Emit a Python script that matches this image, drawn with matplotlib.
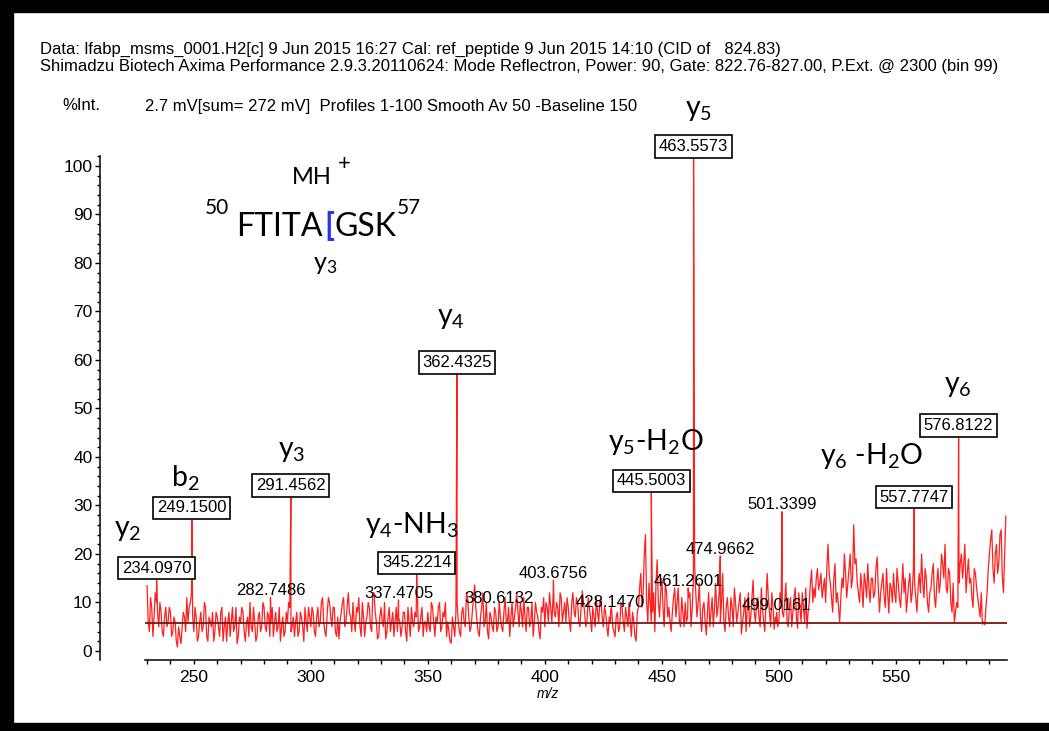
import numpy as np
import matplotlib.pyplot as plt
from matplotlib import font_manager
from matplotlib.patches import Rectangle
from matplotlib.ticker import MultipleLocator, FuncFormatter


# ============================================================
# DATOS DEL ESPECTRO
# ============================================================

# ruido de fondo, una lectura por unidad de m/z desde 230
MZ_INICIO = 230

fondo = [
    13.5, 4, 9, 7, 10, 5, 8, 3, 9, 6,          # 230
    8, 4, 6, 0.8, 3, 5, 7, 11, 9, 12,          # 240
    4, 7, 3, 8, 5, 9, 2, 6, 8, 4,              # 250
    7, 3, 9, 5, 2, 8, 6, 4, 9, 3,              # 260
    6, 8, 2, 7, 10, 4, 6, 3, 8, 5,             # 270
    9, 4, 7, 6, 3, 8, 5, 2, 7, 4,              # 280
    6, 9, 5, 3, 8, 4, 7, 2, 6, 9,              # 290
    5, 8, 3, 9, 6, 11, 4, 8, 10, 5,            # 300
    9, 3, 2.5, 8, 11, 6, 12, 7, 10, 4,         # 310
    8, 5, 10, 3, 7, 9, 4, 12, 6, 3,            # 320
    9, 5, 2.5, 7, 4, 8, 6, 4, 6, 5,            # 330
    8, 2, 6, 9, 5, 7, 4, 7, 3, 6,              # 340
    8, 4, 9, 3, 6, 10, 5, 7, 3, 4,             # 350
    1.6, 5, 8, 6, 3, 9, 5, 11, 4, 8,           # 360
    13.6, 6, 3, 9, 5, 10, 2.5, 7, 4, 8,        # 370
    5, 7, 4, 11, 6, 3, 10, 7, 12, 5,           # 380
    8, 11, 4, 9, 6, 3, 10, 7, 2.5, 8,          # 390
    5, 9, 12, 6, 8, 10, 5, 11, 8, 6,           # 400
    9, 4, 12, 7, 10, 5, 12.4, 8, 6, 9,         # 410
    4, 7, 11, 6, 10.7, 5, 8, 3, 6, 5,          # 420
    2.9, 8, 5, 9, 4, 7, 10, 3, 6, 2,           # 430
    9, 16, 12, 24, 6, 10, 8, 4, 18.8, 7,       # 440
    15, 5, 12, 9, 4, 11, 7, 13, 5, 8,          # 450
    10, 7, 12, 9, 18, 7, 14, 4, 10, 3.3,       # 460
    12, 8, 5, 14, 9, 6, 16, 4, 11, 5,          # 470
    9, 13, 6, 10, 3.5, 8, 4, 12, 7, 14.6,      # 480
    6, 11, 5, 9, 4, 16, 8, 12, 4.5, 6,         # 490
    6, 10, 7, 14, 5, 11, 8, 13, 4.7, 9,        # 500
    12, 6, 4.7, 10, 16.7, 13, 15, 12.6, 16, 13,  # 510
    10, 22, 14, 8, 18, 12, 6, 15, 20, 11,      # 520
    17, 13, 26, 19, 12, 16, 9, 14, 18, 10,     # 530
    15, 12, 19.4, 8, 14, 11, 17, 7.8, 13, 16,  # 540
    10, 14, 9, 18, 15, 11, 16, 12, 14, 8,      # 550
    16, 20, 11, 15, 8, 13, 18, 9, 17, 14,      # 560
    18, 22, 12, 16, 8, 5.8, 10, 14, 20, 18,    # 570
    12, 19, 15, 9, 16, 11, 7, 5.5, 5.4, 12,    # 580
    20, 25, 14, 22, 18, 25, 12, 27.8,          # 590
]

# lecturas intermedias, en 230.5, 231.5, ...
fondo_medio = [
    6, 11, 3, 12, 8, 10, 4, 7, 5, 9,           # 230.5
    3, 7, 2, 5, 1.5, 8, 4, 6, 10, 7,           # 240.5
    9, 2, 6, 4, 10, 3, 7, 5, 2, 8,             # 250.5
    5, 8, 2, 7, 6, 3, 9, 5, 1.5, 7,            # 260.5
    9, 4, 6, 3, 5, 9, 2, 7, 4, 10,             # 270.5
    5, 8, 3, 9, 6, 4, 9, 5, 3, 8,              # 280.5
    10, 4, 7, 6, 3, 8, 5, 9, 4, 7,             # 290.5
    9, 4, 7, 5, 10, 6, 3, 11, 7, 9,            # 300.5
    4, 7, 6, 10, 5, 9, 8, 4, 6, 9,             # 310.5
    11, 3, 7, 6, 10, 5, 12, 8, 2.5, 7,         # 320.5
    6, 10, 4, 9, 6, 3, 9, 7, 3, 8,             # 330.5
    4, 9, 3, 6, 8, 12, 5, 9, 6, 4,             # 340.5
    5, 10, 6, 7, 9, 4, 8, 10, 6, 2,            # 350.5
    7, 3, 10, 4, 8, 6, 12, 7, 5, 11,           # 360.5
    9, 4, 7, 12, 6, 4, 8, 5, 9, 4,             # 370.5
    10, 5, 8, 6, 9, 7, 5, 9, 8, 10,            # 380.5
    5, 7, 9, 5, 10, 6, 8, 4, 9, 11,            # 390.5
    10, 6, 9, 11, 7, 9, 12, 6, 10, 11,         # 400.5
    6, 10, 8, 11, 6, 9, 10, 5, 11, 7,          # 410.5
    9, 5, 8, 10, 7, 9, 5, 7, 9, 4,             # 420.5
    7, 4, 10, 6, 9, 5, 6, 8, 3, 8,             # 430.5
    13, 9, 20, 10, 14, 6, 12, 14, 10, 12,      # 440.5
    9, 14, 7, 6, 8, 13, 10, 6, 11, 5,          # 450.5
    6, 11, 5, 15, 12, 10, 7, 9, 6, 8,          # 460.5
    5, 11, 9, 7, 12, 10, 6, 9, 7, 11,          # 470.5
    5, 10, 8, 12, 6, 11, 9, 5, 11, 8,          # 480.5
    10, 7, 13, 6, 10, 11, 5, 9, 7, 5,          # 490.5
    12, 8, 10, 6, 9, 5, 11, 7, 12, 6,          # 500.5
    9, 13, 8, 14, 10, 11, 17, 14, 11, 15,      # 510.5
    17, 16, 11, 15, 10, 9, 11, 13, 16, 14,     # 520.5
    20, 15, 18, 14, 10, 13, 16, 11, 13, 15,    # 530.5
    11, 17, 13, 12, 16, 9, 12, 14, 10, 12,     # 540.5
    17, 11, 13, 12, 8, 14, 10, 17, 11, 13,     # 550.5
    12, 14, 17, 10, 12, 16, 11, 14, 12, 20,    # 560.5
    15, 13, 17, 10, 14, 8, 9, 18, 15, 22,      # 570.5
    16, 14, 11, 17, 13, 9, 12, 6, 9, 17,       # 580.5
    23, 17, 20, 16, 24, 15, 20,                # 590.5
]

# picos etiquetados
picos_mz = [
    234.0970, 249.1500, 282.7486, 291.4562, 337.4705, 345.2214,
    362.4325, 380.6132, 403.6756, 428.1470, 445.5003, 461.2601,
    463.5573, 474.9662, 499.0161, 501.3399, 557.7747, 576.8122,
]
picos_int = [
    14.6, 27.0, 11.0, 31.6, 10.5, 15.7,
    57.0, 9.5, 14.6, 8.5, 32.6, 13.0,
    101.5, 19.6, 8.0, 28.7, 29.2, 44.0,
]
picos_recuadro = [
    True, True, False, True, False, True,
    True, False, False, False, True, False,
    True, False, False, False, True, True,
]

linea_base = 5.8

# iones asignados
iones_texto = [
    r"$\mathregular{y_2}$", r"$\mathregular{b_2}$", r"$\mathregular{y_3}$",
    r"$\mathregular{y_4}$-NH$\mathregular{_3}$", r"$\mathregular{y_4}$",
    r"$\mathregular{y_5}$-H$\mathregular{_2}$O", r"$\mathregular{y_5}$",
    r"$\mathregular{y_6}$ -H$\mathregular{_2}$O", r"$\mathregular{y_6}$",
]
iones_mz = [221.9, 246.2, 292.0, 343.2, 359.9, 447.5, 465.5, 539.4, 576.6]
iones_y = [25.0, 35.7, 41.2, 26.0, 68.7, 43.1, 111.5, 40.2, 54.6]

texto_cabecera = [
    "Data: lfabp_msms_0001.H2[c] 9 Jun 2015 16:27 Cal: ref_peptide "
    "9 Jun 2015 14:10 (CID of   824.83)",
    "Shimadzu Biotech Axima Performance 2.9.3.20110624: Mode Reflectron, "
    "Power: 90, Gate: 822.76-827.00, P.Ext. @ 2300 (bin 99)",
]
texto_perfil = "2.7 mV[sum= 272 mV]  Profiles 1-100 Smooth Av 50 -Baseline 150"


# ============================================================
# FUENTES
# ============================================================

def fuente_disponible(nombre):
    try:
        font_manager.findfont(
            font_manager.FontProperties(family=nombre),
            fallback_to_default=False
        )
        return True
    except ValueError:
        return False


if fuente_disponible("Liberation Sans Narrow"):
    FUENTE_CABECERA = "Liberation Sans Narrow"
    TAM_CABECERA = 12.2
else:
    FUENTE_CABECERA = "Liberation Sans"
    TAM_CABECERA = 12.0

FUENTE_IONES = "Lato"

plt.rcParams["font.family"] = ["Liberation Sans", "DejaVu Sans"]
plt.rcParams["mathtext.fontset"] = "custom"
plt.rcParams["mathtext.rm"] = "Lato"
plt.rcParams["mathtext.it"] = "Lato:italic"


# ============================================================
# FIGURA
# ============================================================

ANCHO, ALTO = 1049, 731
fig = plt.figure(figsize=(ANCHO / 100, ALTO / 100), dpi=100)


def px(x, y):
    return x / ANCHO, 1 - y / ALTO


ax = fig.add_axes([144.7 / ANCHO, 71 / ALTO, 862.3 / ANCHO, 504 / ALTO])

# trazo completo: fondo, lecturas intermedias y picos intercalados
fondo_mz = MZ_INICIO + np.arange(len(fondo))
medio_mz = MZ_INICIO + 0.5 + np.arange(len(fondo_medio))
mz = np.concatenate([fondo_mz, medio_mz, picos_mz])
intensidad = np.concatenate([fondo, fondo_medio, picos_int])
orden = np.argsort(mz)

ax.plot(
    mz[orden],
    intensidad[orden],
    color="#ff1f1f",
    linewidth=0.9,
    zorder=2
)

ax.axhline(
    linea_base,
    color="#7a1414",
    linewidth=1.3,
    zorder=3
)

ax.set_xlim(229, 597.5)
ax.set_ylim(-1.86, 102.06)

# ejes
for lado in ["top", "right"]:
    ax.spines[lado].set_visible(False)

ax.spines["left"].set_position(("outward", 32))
ax.spines["left"].set_linewidth(1.1)
ax.spines["bottom"].set_linewidth(1.1)

ax.xaxis.set_major_locator(MultipleLocator(50))
ax.xaxis.set_minor_locator(MultipleLocator(10))
ax.yaxis.set_major_locator(MultipleLocator(10))
ax.yaxis.set_minor_locator(MultipleLocator(2))
ax.xaxis.set_major_formatter(FuncFormatter(lambda v, p: f"{v:.0f}"))

ax.tick_params(axis="x", which="both", direction="out",
               length=3.2, width=1.0, labelsize=12.5, pad=4)
ax.tick_params(axis="y", which="major", direction="out",
               length=3.6, width=1.0, labelsize=12.5, pad=2)
ax.tick_params(axis="y", which="minor", direction="out",
               length=2.0, width=1.0)

fig.text(*px(548, 694), "m/z", style="italic", fontsize=10,
         ha="center", va="center")


# ============================================================
# ETIQUETAS DE LOS PICOS
# ============================================================

for pmz, pint, recuadro in zip(picos_mz, picos_int, picos_recuadro):

    if recuadro:
        ax.text(
            pmz, pint + 2.5, f"{pmz:.4f}",
            fontsize=12, ha="center", va="center", zorder=5,
            bbox=dict(boxstyle="square,pad=0.22", fc="white",
                      ec="black", lw=1.2)
        )
    else:
        ax.text(
            pmz, pint + 1.4, f"{pmz:.4f}",
            fontsize=12, ha="center", va="center", zorder=5
        )

for texto, imz, iy in zip(iones_texto, iones_mz, iones_y):
    ax.text(
        imz, iy, texto,
        family=FUENTE_IONES, fontsize=20.5,
        ha="center", va="center", clip_on=False
    )


# ============================================================
# SECUENCIA DEL PEPTIDO
# ============================================================

fig.text(*px(292, 184), "MH", family=FUENTE_IONES, fontsize=17, va="baseline")
fig.text(*px(338, 170), "+", family=FUENTE_IONES, fontsize=16, va="baseline")

fig.text(*px(205, 214), "50", family=FUENTE_IONES, fontsize=15, va="baseline")
fig.text(*px(236, 236), "FTITA", family=FUENTE_IONES, fontsize=23,
         va="baseline")
fig.text(*px(324, 236), "[", family=FUENTE_IONES, fontsize=23,
         color="#2a35e0", weight="bold", va="baseline")
fig.text(*px(334, 236), "GSK", family=FUENTE_IONES, fontsize=23,
         va="baseline")
fig.text(*px(397, 214), "57", family=FUENTE_IONES, fontsize=15, va="baseline")

fig.text(*px(325, 264), r"$\mathregular{y_3}$", family=FUENTE_IONES,
         fontsize=18, ha="center", va="center")


# ============================================================
# CABECERA
# ============================================================

fig.text(*px(40, 49), texto_cabecera[0], family=FUENTE_CABECERA,
         fontsize=TAM_CABECERA, va="center")
fig.text(*px(40, 67), texto_cabecera[1], family=FUENTE_CABECERA,
         fontsize=TAM_CABECERA, va="center")
fig.text(*px(62, 106), "%Int.", family=FUENTE_CABECERA,
         fontsize=TAM_CABECERA, va="center")
fig.text(*px(145, 106), texto_perfil, family=FUENTE_CABECERA,
         fontsize=TAM_CABECERA, va="center")

# marco negro
for x0, y0, w, h in [(0, 0, 13, 731), (0, 0, 1049, 12), (0, 723, 1049, 8)]:
    fig.add_artist(Rectangle(
        (x0 / ANCHO, 1 - (y0 + h) / ALTO), w / ANCHO, h / ALTO,
        transform=fig.transFigure, color="black", zorder=10
    ))

fig.savefig("out.png", dpi=100)
